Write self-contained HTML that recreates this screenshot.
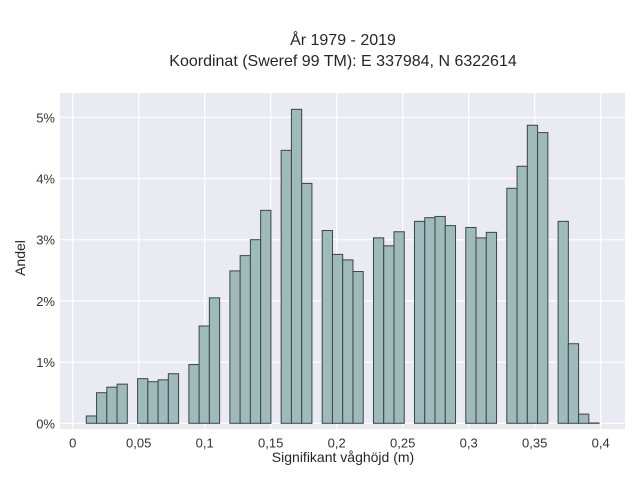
<!DOCTYPE html>
<html><head><meta charset="utf-8"><style>
html,body{margin:0;padding:0;background:#fff;}
svg{display:block;font-family:"Liberation Sans",sans-serif;}
</style></head><body>
<svg id="chart" width="640" height="480" viewBox="0 0 640 480">
<text x="343" y="45" text-anchor="middle" font-size="16" fill="#262626">År 1979 - 2019</text>
<text x="343" y="66" text-anchor="middle" font-size="16" fill="#262626">Koordinat (Sweref 99 TM): E 337984, N 6322614</text>
<rect x="60" y="93" width="565" height="336" fill="#eaeaf2"/>
<g id="grid"></g>
<g id="bars"></g>
<g id="ticks"></g>
<text x="343" y="462" text-anchor="middle" font-size="14" fill="#262626">Signifikant våghöjd (m)</text>
<text transform="translate(25,258) rotate(-90)" text-anchor="middle" font-size="14" fill="#262626">Andel</text>
</svg>
<script>
const binStart = 0.0103;
const binWidth = 0.00777;
const binValues = [0.12,0.50,0.59,0.64,null,0.73,0.68,0.71,0.81,null,0.96,1.59,2.05,null,2.49,2.74,3.00,3.48,null,4.46,5.13,3.92,null,3.15,2.76,2.67,2.48,null,3.03,2.90,3.13,null,3.30,3.36,3.38,3.23,null,3.20,3.03,3.12,null,3.84,4.20,4.87,4.75,null,3.30,1.30,0.15,0.005];
const xTicks = [0,0.05,0.1,0.15,0.2,0.25,0.3,0.35,0.4];
const xTickLabels = ["0","0,05","0,1","0,15","0,2","0,25","0,3","0,35","0,4"];
const yTicks = [0,1,2,3,4,5];
const yTickLabels = ["0%","1%","2%","3%","4%","5%"];

const NS = "http://www.w3.org/2000/svg";
function xs(v){ return 72.7 + v * 1320; }
function ys(v){ return 423.3 - v * 61.2; }
function mk(tag, attrs, parent){
  const e = document.createElementNS(NS, tag);
  for (const k in attrs) e.setAttribute(k, attrs[k]);
  parent.appendChild(e);
  return e;
}
const grid = document.getElementById('grid');
const bars = document.getElementById('bars');
const ticks = document.getElementById('ticks');
xTicks.forEach((t, i) => {
  const l = mk('line', {x1: xs(t), x2: xs(t), y1: 93, y2: 429, stroke: '#fff', 'stroke-width': 1.2}, grid);
  
  
  const tx = mk('text', {x: xs(t), y: 438, 'text-anchor': 'middle', 'font-size': 13, fill: '#333', 'dominant-baseline': 'hanging'}, ticks);
  tx.textContent = xTickLabels[i];
  
  
});
yTicks.forEach((t, i) => {
  const l = mk('line', {x1: 60, x2: 625, y1: ys(t), y2: ys(t), stroke: '#fff', 'stroke-width': 1.2}, grid);
  
  
  const tx = mk('text', {x: 55, y: ys(t) + 5, 'text-anchor': 'end', 'font-size': 13, fill: '#333'}, ticks);
  tx.textContent = yTickLabels[i];
  
  
});
binValues.forEach((v, i) => {
  if (v === null) return;
  const x0 = xs(binStart + i * binWidth), x1 = xs(binStart + (i + 1) * binWidth);
  const r = mk('rect', {x: x0, y: ys(v), width: x1 - x0, height: ys(0) - ys(v), fill: '#9fbaba', stroke: '#3d4444', 'stroke-width': 1}, bars);
  
  
});
</script>
</body></html>
